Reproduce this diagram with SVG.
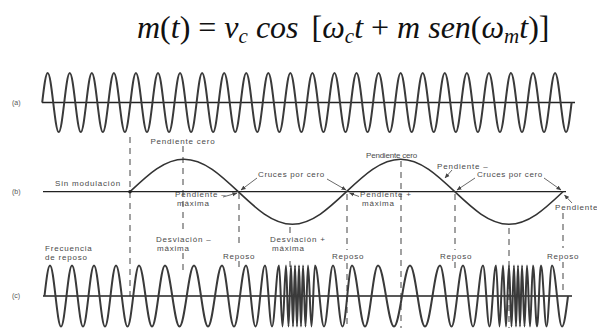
<svg xmlns="http://www.w3.org/2000/svg" width="597" height="328" viewBox="0 0 597 328">
<style>
.lb{font-family:"Liberation Sans",Arial,sans-serif;font-size:8px;fill:#4a4a4a;letter-spacing:0.8px}
.pl{font-family:"Liberation Sans",Arial,sans-serif;font-size:7px;fill:#555}
.ax{stroke:#222;stroke-width:1.3;fill:none}
.wv{stroke:#3a3a3a;stroke-width:2;fill:none;stroke-linejoin:round}
.md{stroke:#333;stroke-width:1.6;fill:none}
.ds{stroke:#555;stroke-width:1.1;stroke-dasharray:6 5;fill:none}
.ar{stroke:#444;stroke-width:0.8;fill:none;marker-end:url(#ah)}
</style>
<defs>
<marker id="ah" viewBox="0 0 6 6" refX="5.5" refY="3" markerWidth="5" markerHeight="5" markerUnits="userSpaceOnUse" orient="auto"><path d="M0,0.5 L6,3 L0,5.5 z" fill="#444"/></marker>
</defs>
<rect width="597" height="328" fill="#fff"/>
<g id="title">
<text x="137" y="38" font-family="'Liberation Serif','DejaVu Serif',serif" font-size="32" font-style="italic" fill="#111">m<tspan font-style="normal">(</tspan>t<tspan font-style="normal">) = </tspan>v<tspan font-size="21" dy="5">c</tspan><tspan dy="-5"> cos </tspan><tspan font-style="normal" dx="5">[</tspan>ω<tspan font-size="21" dy="5">c</tspan><tspan dy="-5">t </tspan><tspan font-style="normal">+ </tspan>m sen<tspan font-style="normal">(</tspan>ω<tspan font-size="21" dy="5">m</tspan><tspan dy="-5">t</tspan><tspan font-style="normal">)]</tspan></text>
</g>
<g id="dashes">
<line class="ds" x1="130" y1="137" x2="130" y2="296"/>
<line class="ds" x1="183" y1="146" x2="183" y2="233"/>
<line class="ds" x1="183" y1="253" x2="183" y2="274"/>
<line class="ds" x1="239" y1="193" x2="239" y2="247"/>
<line class="ds" x1="239" y1="261" x2="239" y2="267"/>
<line class="ds" x1="290" y1="227" x2="290" y2="233"/>
<line class="ds" x1="290" y1="261" x2="290" y2="267"/>
<line class="ds" x1="347" y1="194" x2="347" y2="250"/>
<line class="ds" x1="347" y1="263" x2="347" y2="328"/>
<line class="ds" x1="401" y1="161" x2="401" y2="328"/>
<line class="ds" x1="455" y1="194" x2="455" y2="250"/>
<line class="ds" x1="455" y1="262" x2="455" y2="273"/>
<line class="ds" x1="509" y1="228" x2="509" y2="328"/>
<line class="ds" x1="563" y1="213" x2="563" y2="248"/>
<line class="ds" x1="563" y1="262" x2="563" y2="290"/>
</g>
<g id="panel-a">
<text class="pl" x="12" y="105">(a)</text>
<line class="ax" x1="42" y1="102.5" x2="575" y2="102.5"/>
<path class="wv" d="M42.2,102.5 c1.82,-15.34 3.47,-29.5 5.5,-29.5 c4.03,0 7,59 11.03,59 c4.03,0 7,-59 11.03,-59 c4.03,0 7,59 11.03,59 c4.03,0 7,-59 11.03,-59 c4.03,0 7,59 11.03,59 c4.03,0 7,-59 11.03,-59 c4.03,0 7,59 11.03,59 c4.03,0 7,-59 11.03,-59 c4.03,0 7,59 11.03,59 c4.03,0 7,-59 11.03,-59 c4.03,0 7,59 11.03,59 c4.03,0 7,-59 11.03,-59 c4.03,0 7,59 11.03,59 c4.03,0 7,-59 11.03,-59 c4.03,0 7,59 11.03,59 c4.03,0 7,-59 11.03,-59 c4.03,0 7,59 11.03,59 c4.03,0 7,-59 11.03,-59 c4.03,0 7,59 11.03,59 c4.03,0 7,-59 11.03,-59 c4.03,0 7,59 11.03,59 c4.03,0 7,-59 11.03,-59 c4.03,0 7,59 11.03,59 c4.03,0 7,-59 11.03,-59 c4.03,0 7,59 11.03,59 c4.03,0 7,-59 11.03,-59 c4.03,0 7,59 11.03,59 c4.03,0 7,-59 11.03,-59 c4.03,0 7,59 11.03,59 c4.03,0 7,-59 11.03,-59 c4.03,0 7,59 11.03,59 c4.03,0 7,-59 11.03,-59 c4.03,0 7,59 11.03,59 c4.03,0 7,-59 11.03,-59 c4.03,0 7,59 11.03,59 c4.03,0 7,-59 11.03,-59 c4.03,0 7,59 11.03,59 c4.03,0 7,-59 11.03,-59 c4.03,0 7,59 11.03,59 c4.03,0 7,-59 11.03,-59 c4.03,0 7,59 11.03,59 c4.03,0 7,-59 11.03,-59 c4.03,0 7,59 11.03,59 c4.03,0 7,-59 11.03,-59 c4.03,0 7,59 11.03,59 c4.03,0 7,-59 11.03,-59 c4.03,0 7,59 11.03,59 c2.04,0 3.69,-14.16 5.5,-29.5"/>
</g>
<g id="panel-b">
<text class="pl" x="12" y="194">(b)</text>
<line class="ax" x1="43" y1="191.7" x2="566" y2="191.7"/>
<path class="md" d="M130,191.7 C147.9,174.8 164.1,159.2 184.1,159.2 C223.6,159.2 252.9,224.2 292.4,224.2 C331.9,224.2 361.1,159.2 400.6,159.2 C440.1,159.2 469.4,224.2 508.9,224.2 C528.9,224.2 545.1,208.6 563,191.7"/>
<circle cx="130" cy="191.7" r="1.8" fill="#222"/>
<text class="lb" x="183" y="144" text-anchor="middle">Pendiente cero</text>
<text class="lb" x="55" y="186">Sin modulación</text>
<text class="lb" x="175" y="197">Pendiente –</text>
<text class="lb" x="177" y="206">máxima</text>
<text class="lb" x="258" y="177" textLength="67">Cruces por cero</text>
<text class="lb" x="392" y="158" text-anchor="middle" textLength="52">Pendiente cero</text>
<text class="lb" x="360" y="197">Pendiente +</text>
<text class="lb" x="362" y="206">máxima</text>
<text class="lb" x="437" y="169">Pendiente –</text>
<text class="lb" x="477" y="177" textLength="66">Cruces por cero</text>
<text class="lb" x="555" y="210">Pendiente</text>
</g>
<g id="arrows">
<line class="ar" x1="223" y1="197" x2="237" y2="193"/>
<line class="ar" x1="257" y1="178" x2="241" y2="190"/>
<line class="ar" x1="327" y1="179" x2="346" y2="190"/>
<line class="ar" x1="359" y1="196.5" x2="349.5" y2="193"/>
<line class="ar" x1="452" y1="170" x2="445" y2="178"/>
<line class="ar" x1="475" y1="178" x2="457" y2="190"/>
<line class="ar" x1="544" y1="178" x2="561" y2="190"/>
<line class="ar" x1="572" y1="203" x2="564.5" y2="195"/>
</g>
<g id="panel-c">
<text class="pl" x="12" y="298">(c)</text>
<line class="ax" x1="43" y1="296" x2="572" y2="296"/>
<path class="wv" d="M44.5,296 C46.3,280.1 48,265.5 50,265.5 C54,265.5 57,326.5 61,326.5 C65,326.5 68,265.5 72,265.5 C76,265.5 79,326.5 83,326.5 C87,326.5 90,265.5 94,265.5 C98,265.5 101,326.5 105,326.5 C109,326.5 112,265.5 116,265.5 C120.2,265.5 123.3,326.5 127.5,326.5 C131.7,326.5 134.8,265.5 139,265.5 C143.7,265.5 147.3,326.5 152,326.5 C156.7,326.5 160.3,265.5 165,265.5 C170.3,265.5 174.2,326.5 179.5,326.5 C184.8,326.5 188.7,265.5 194,265.5 C199.1,265.5 202.9,326.5 208,326.5 C213.1,326.5 216.9,265.5 222,265.5 C226.4,265.5 229.6,326.5 234,326.5 C238.4,326.5 241.6,265.5 246,265.5 C249.5,265.5 252,326.5 255.5,326.5 C259,326.5 261.5,265.5 265,265.5 C267.6,265.5 269.4,326.5 272,326.5 C274.6,326.5 276.4,265.5 279,265.5 C280.3,265.5 281.2,326.5 282.5,326.5 C283.8,326.5 284.7,265.5 286,265.5 C286.9,265.5 287.6,326.5 288.5,326.5 C289.4,326.5 290.1,265.5 291,265.5 C291.7,265.5 292.3,326.5 293,326.5 C293.7,326.5 294.3,265.5 295,265.5 C295.7,265.5 296.3,326.5 297,326.5 C297.7,326.5 298.3,265.5 299,265.5 C299.7,265.5 300.3,326.5 301,326.5 C301.7,326.5 302.3,265.5 303,265.5 C303.9,265.5 304.6,326.5 305.5,326.5 C306.4,326.5 307.1,265.5 308,265.5 C309.3,265.5 310.2,326.5 311.5,326.5 C312.8,326.5 313.7,265.5 315,265.5 C318.3,265.5 320.7,326.5 324,326.5 C327.3,326.5 329.7,265.5 333,265.5 C336.5,265.5 339,326.5 342.5,326.5 C346,326.5 348.5,265.5 352,265.5 C356.7,265.5 360.3,326.5 365,326.5 C369.7,326.5 373.3,265.5 378,265.5 C383.8,265.5 388.2,326.5 394,326.5 C399.8,326.5 404.2,265.5 410,265.5 C415.5,265.5 419.5,326.5 425,326.5 C430.5,326.5 434.5,265.5 440,265.5 C444.2,265.5 447.3,326.5 451.5,326.5 C455.7,326.5 458.8,265.5 463,265.5 C466.6,265.5 469.4,326.5 473,326.5 C476.6,326.5 479.4,265.5 483,265.5 C485.4,265.5 487.1,326.5 489.5,326.5 C491.9,326.5 493.6,265.5 496,265.5 C497.3,265.5 498.2,326.5 499.5,326.5 C500.8,326.5 501.7,265.5 503,265.5 C504.1,265.5 504.9,326.5 506,326.5 C507.1,326.5 507.9,265.5 509,265.5 C509.9,265.5 510.6,326.5 511.5,326.5 C512.4,326.5 513.1,265.5 514,265.5 C514.7,265.5 515.3,326.5 516,326.5 C516.7,326.5 517.3,265.5 518,265.5 C518.7,265.5 519.3,326.5 520,326.5 C520.7,326.5 521.3,265.5 522,265.5 C522.9,265.5 523.6,326.5 524.5,326.5 C525.4,326.5 526.1,265.5 527,265.5 C528.1,265.5 528.9,326.5 530,326.5 C531.1,326.5 531.9,265.5 533,265.5 C534.5,265.5 535.5,326.5 537,326.5 C538.5,326.5 539.5,265.5 541,265.5 C543,265.5 544.5,326.5 546.5,326.5 C548.5,326.5 550,265.5 552,265.5 C555.7,265.5 558.3,326.5 562,326.5 C564.2,326.5 566,311.9 568,296"/>
<text class="lb" x="45" y="251">Frecuencia</text>
<text class="lb" x="45" y="260">de reposo</text>
<text class="lb" x="156" y="242">Desviación –</text>
<text class="lb" x="157" y="251">máxima</text>
<text class="lb" x="223" y="259">Reposo</text>
<text class="lb" x="270" y="242">Desviación +</text>
<text class="lb" x="272" y="251">máxima</text>
<text class="lb" x="332" y="259">Reposo</text>
<text class="lb" x="440" y="259">Reposo</text>
<text class="lb" x="547" y="259">Reposo</text>
</g>
</svg>
